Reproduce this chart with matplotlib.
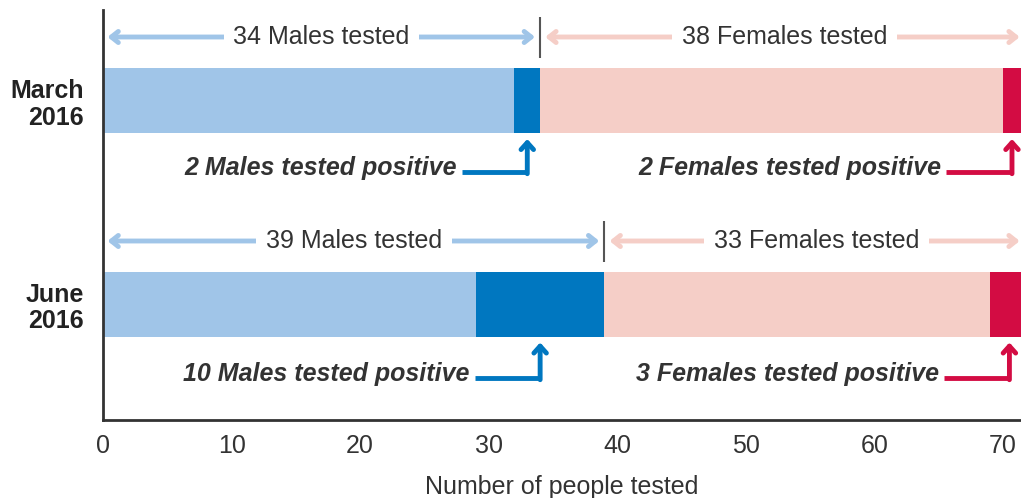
import matplotlib
matplotlib.use("Agg")
import matplotlib.pyplot as plt

# ---- data ----
periods = ["March\n2016", "June\n2016"]
males_tested = [34, 39]
males_positive = [2, 10]
females_tested = [38, 33]
females_positive = [2, 3]
x_ticks = [0, 10, 20, 30, 40, 50, 60, 70]
x_label = "Number of people tested"

# ---- style ----
plt.rcParams['font.family'] = ['Liberation Sans', 'DejaVu Sans']
C_MALE_LIGHT = "#a0c5e8"
C_MALE_DARK = "#0077c0"
C_FEM_LIGHT = "#f5cec7"
C_FEM_DARK = "#d30c43"
C_TXT = "#333333"
FS = 18

fig = plt.figure(figsize=(10.21, 4.98), dpi=100)
ax = fig.add_axes([103/1021, 78/498, 918/1021, 410/498])
ax.set_xlim(0, 918/12.857)
ax.set_ylim(420, 10)  # top-down layout coordinates

bar_y = [100.5, 304]
bar_h = 65
arrow_y = [37, 241]
ann_y = [172, 378]

for i, yc in enumerate(bar_y):
    mt, mp, ft, fp = males_tested[i], males_positive[i], females_tested[i], females_positive[i]
    # bars
    ax.barh(yc, mt - mp, left=0, height=bar_h, color=C_MALE_LIGHT)
    ax.barh(yc, mp, left=mt - mp, height=bar_h, color=C_MALE_DARK)
    ax.barh(yc, ft - fp, left=mt, height=bar_h, color=C_FEM_LIGHT)
    ax.barh(yc, fp, left=mt + ft - fp, height=bar_h, color=C_FEM_DARK)

    ay = arrow_y[i]
    # separator
    ax.plot([mt, mt], [ay - 20, ay + 21], color="#555555", lw=1.5, solid_capstyle='butt')
    # male tested arrow
    ax.annotate("", xy=(0.35, ay), xytext=(mt - 0.4, ay),
                arrowprops=dict(arrowstyle="<->,head_length=0.5,head_width=0.4",
                                color=C_MALE_LIGHT, lw=3.5, shrinkA=0, shrinkB=0),
                annotation_clip=False)
    ax.text(mt / 2, ay, f"{mt} Males tested", ha="center", va="center", fontsize=FS,
            color=C_TXT, bbox=dict(facecolor="white", edgecolor="none", pad=7))
    # female tested arrow
    ax.annotate("", xy=(mt + 0.4, ay), xytext=(mt + ft - 0.7, ay),
                arrowprops=dict(arrowstyle="<->,head_length=0.5,head_width=0.4",
                                color=C_FEM_LIGHT, lw=3.5, shrinkA=0, shrinkB=0),
                annotation_clip=False)
    ax.text(mt + ft / 2, ay, f"{ft} Females tested", ha="center", va="center", fontsize=FS,
            color=C_TXT, bbox=dict(facecolor="white", edgecolor="none", pad=7))

    # positive annotations (elbow arrows)
    py = ann_y[i]
    top = yc + bar_h / 2 + 6
    mx = mt - mp / 2
    fx = min(mt + ft - fp / 2, 70.7)
    for xc, col, label in [(mx, C_MALE_DARK, f"{mp} Males tested positive"),
                           (fx, C_FEM_DARK, f"{fp} Females tested positive")]:
        x0 = xc - 5.1
        ax.plot([x0, xc], [py, py], color=col, lw=3.5, solid_capstyle='butt')
        ax.annotate("", xy=(xc, top), xytext=(xc, py + 1.7),
                    arrowprops=dict(arrowstyle="->,head_length=0.5,head_width=0.45",
                                    color=col, lw=3.5, shrinkA=0, shrinkB=0))
        ax.text(x0 - 0.4, py - 4, label, ha="right", va="center", fontsize=FS,
                style="italic", fontweight="bold", color=C_TXT)

ax.set_yticks(bar_y)
ax.set_yticklabels(periods, fontsize=FS, fontweight="bold", color="#222222", linespacing=1.15)
ax.set_xticks(x_ticks)
ax.set_xticklabels([str(t) for t in x_ticks], fontsize=FS, color=C_TXT)
ax.tick_params(axis="both", length=0)
ax.tick_params(axis="x", pad=10)
ax.tick_params(axis="y", pad=14)
ax.set_xlabel(x_label, fontsize=FS, color=C_TXT, labelpad=12)
for s in ["top", "right"]:
    ax.spines[s].set_visible(False)
for s in ["left", "bottom"]:
    ax.spines[s].set_color("#333333")
    ax.spines[s].set_linewidth(2)

fig.savefig("out.png", dpi=100)
